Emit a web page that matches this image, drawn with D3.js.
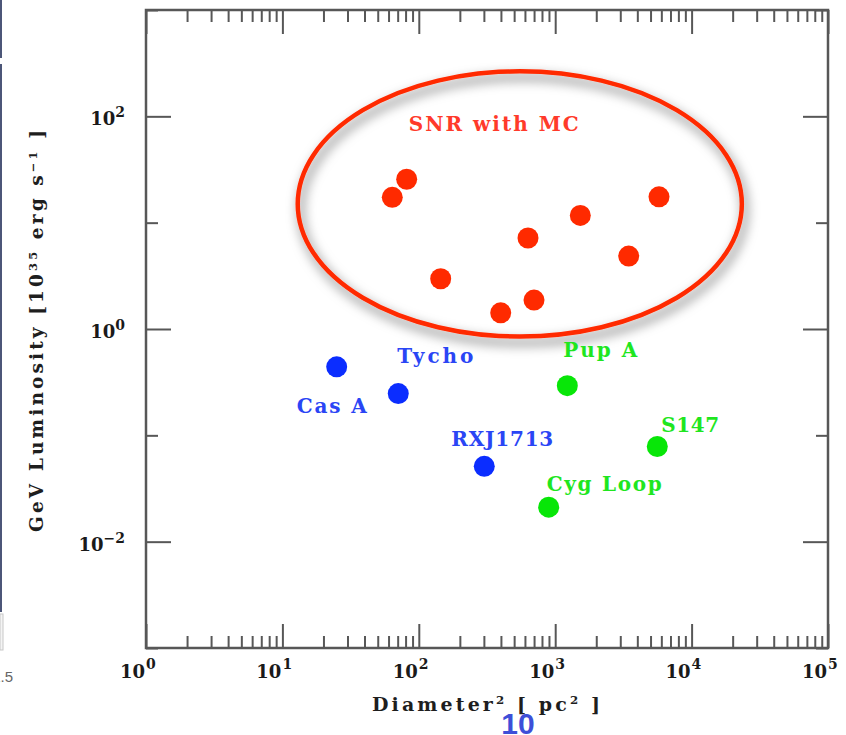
<!DOCTYPE html>
<html>
<head>
<meta charset="utf-8">
<script src="https://cdn.jsdelivr.net/npm/d3@7"></script>
<style>
  html, body { margin: 0; padding: 0; background: #fff; }
  svg { display: block; }
</style>
</head>
<body>
<svg id="chart" width="846" height="735"></svg>
<script>
// GeV luminosity of supernova remnants against squared diameter

// Remnants interacting with molecular clouds
const mcDiam2 = [63.9, 81.5, 144.7, 398.6, 631.8, 699.3, 1528, 3459, 5768];
const mcLum   = [17.3, 25.6, 2.97, 1.42, 7.17, 1.87, 11.7, 4.85, 17.5];

// Young remnants
const youngNames = ["Cas A", "Tycho", "RXJ1713"];
const youngDiam2 = [25.0, 70.7, 302];
const youngLum   = [0.441, 0.247, 0.0511];

// Older remnants
const oldNames = ["Pup A", "S147", "Cyg Loop"];
const oldDiam2 = [1227, 5604, 896];
const oldLum   = [0.293, 0.0786, 0.0211];

// Axis ranges and tick exponents
const xDomain = [1, 1e5];
const yDomain = [1e-3, 1e3];
const xMajorExps = [0, 1, 2, 3, 4, 5];
const yMajorExps = [-2, 0, 2];
const yMinorExps = [-3, -1, 1, 3];

// Group outline around the cloud-interacting remnants (centre, half-axes in decades)
const mcCenter = [550, 15];
const mcHalfDecades = [1.628, 1.247];
const mcTitle = "SNR with MC";

const xTitle = ["Diameter", "2", " [ pc", "2", " ]"];
const yTitle = ["GeV Luminosity [10", "35", " erg s", "\u22121", " ]"];
const pageNumber = "10";

// ---------------------------------------------------------------
const svg = d3.select("#chart");
const plot = { left: 146, right: 828, top: 10, bottom: 648 };

const x = d3.scaleLog().domain(xDomain).range([plot.left, plot.right]);
const y = d3.scaleLog().domain(yDomain).range([plot.bottom, plot.top]);

const RED = "#ff2a00", BLUE = "#0b2dff", GREEN = "#08e608";
const AXIS = "#575757";
const serif = "'DejaVu Serif', 'Liberation Serif', serif";

// Drop shadow for the group outline
const defs = svg.append("defs");
const f = defs.append("filter").attr("id", "shadow")
  .attr("x", "-20%").attr("y", "-20%").attr("width", "140%").attr("height", "150%");
f.append("feDropShadow").attr("dx", 3).attr("dy", 6)
  .attr("stdDeviation", 6).attr("flood-color", "#000").attr("flood-opacity", 0.6);

// Slide edge remnants on the left border
svg.append("rect").attr("x", 0).attr("y", 0).attr("width", 2).attr("height", 58).attr("fill", "#4c5678");
svg.append("rect").attr("x", 0).attr("y", 64).attr("width", 2).attr("height", 548).attr("fill", "#4c5678");
svg.append("rect").attr("x", 0).attr("y", 614).attr("width", 3).attr("height", 36)
  .attr("fill", "#f4f4f4").attr("stroke", "#c8c8c8").attr("stroke-width", 1);
svg.append("text").attr("x", 13).attr("y", 682).attr("text-anchor", "end")
  .attr("font-family", "'Liberation Sans', Arial, sans-serif").attr("font-size", 15)
  .attr("fill", "#666").text("1.5");

// Ticks via d3 axes
const xMajor = xMajorExps.map(e => Math.pow(10, e));
const xMinor = [];
for (let e = 0; e < 5; e++) for (let m = 2; m <= 9; m++) xMinor.push(m * Math.pow(10, e));
const yMajor = yMajorExps.map(e => Math.pow(10, e));
const yMinor = yMinorExps.map(e => Math.pow(10, e));

function styleAxis(g) {
  g.select(".domain").remove();
  g.selectAll(".tick line").attr("stroke", AXIS).attr("stroke-width", 2);
  g.selectAll(".tick text").remove();
}
const axes = svg.append("g");
axes.append("g").attr("transform", `translate(0,${plot.bottom})`)
  .call(d3.axisBottom(x).tickValues(xMajor).tickSize(-24).tickSizeOuter(0)).call(styleAxis);
axes.append("g").attr("transform", `translate(0,${plot.bottom})`)
  .call(d3.axisBottom(x).tickValues(xMinor).tickSize(-12).tickSizeOuter(0)).call(styleAxis);
axes.append("g").attr("transform", `translate(0,${plot.top})`)
  .call(d3.axisTop(x).tickValues(xMajor).tickSize(-24).tickSizeOuter(0)).call(styleAxis);
axes.append("g").attr("transform", `translate(0,${plot.top})`)
  .call(d3.axisTop(x).tickValues(xMinor).tickSize(-12).tickSizeOuter(0)).call(styleAxis);
axes.append("g").attr("transform", `translate(${plot.left},0)`)
  .call(d3.axisLeft(y).tickValues(yMajor).tickSize(-25).tickSizeOuter(0)).call(styleAxis);
axes.append("g").attr("transform", `translate(${plot.left},0)`)
  .call(d3.axisLeft(y).tickValues(yMinor).tickSize(-12).tickSizeOuter(0)).call(styleAxis);
axes.append("g").attr("transform", `translate(${plot.right},0)`)
  .call(d3.axisRight(y).tickValues(yMajor).tickSize(-25).tickSizeOuter(0)).call(styleAxis);
axes.append("g").attr("transform", `translate(${plot.right},0)`)
  .call(d3.axisRight(y).tickValues(yMinor).tickSize(-12).tickSizeOuter(0)).call(styleAxis);

// Frame
svg.append("rect")
  .attr("x", plot.left).attr("y", plot.top)
  .attr("width", plot.right - plot.left).attr("height", plot.bottom - plot.top)
  .attr("fill", "none").attr("stroke", AXIS).attr("stroke-width", 2.5);

// Power-of-ten tick labels
const tickFont = 18, expFont = 14;
const labels = svg.append("g").attr("fill", "#1a1a1a").attr("font-family", serif)
  .attr("font-weight", "bold");
function expText(e) { return e < 0 ? "\u2212" + Math.abs(e) : String(e); }

xMajorExps.forEach(e => {
  const px = x(Math.pow(10, e));
  labels.append("text").attr("x", px - 1).attr("y", 678)
    .attr("text-anchor", "end").attr("font-size", tickFont).text("10");
  labels.append("text").attr("x", px).attr("y", 669)
    .attr("text-anchor", "start").attr("font-size", expFont).text(expText(e));
});
yMajorExps.forEach(e => {
  const py = y(Math.pow(10, e));
  const ex = labels.append("text").attr("x", 125).attr("y", py + 1)
    .attr("text-anchor", "end").attr("font-size", expFont).text(expText(e));
  const w = ex.node().getComputedTextLength();
  labels.append("text").attr("x", 125 - w).attr("y", py + 9)
    .attr("text-anchor", "end").attr("font-size", tickFont).text("10");
});

// Axis titles
function titleText(parent, parts, size) {
  const t = parent.append("text").attr("font-family", serif).attr("font-weight", "bold")
    .attr("font-size", size).attr("fill", "#1e1e1e").attr("text-anchor", "middle");
  parts.forEach((p, i) => {
    const s = t.append("tspan").text(p);
    if (i % 2 === 1) s.attr("font-size", size * 0.62).attr("baseline-shift", "55%");
  });
  return t;
}
titleText(svg, xTitle, 19)
  .attr("x", 486).attr("y", 711)
  .attr("textLength", 228).attr("lengthAdjust", "spacing");
titleText(svg.append("g").attr("transform", "translate(43,331) rotate(-90)"), yTitle, 18.5)
  .attr("x", 0).attr("y", 0)
  .attr("textLength", 402).attr("lengthAdjust", "spacing");

// Group outline
const cx = x(mcCenter[0]), cy = y(mcCenter[1]);
const rx = x(mcCenter[0] * Math.pow(10, mcHalfDecades[0])) - cx;
const ry = cy - y(mcCenter[1] * Math.pow(10, mcHalfDecades[1]));
svg.append("ellipse")
  .attr("cx", cx).attr("cy", cy).attr("rx", rx).attr("ry", ry)
  .attr("fill", "none").attr("stroke", RED).attr("stroke-width", 4.5)
  .attr("filter", "url(#shadow)");

// Point labels
const labelFont = 20;
function pointLabel(px, py, txt, color, dx, dy, len) {
  svg.append("text")
    .attr("x", px + dx).attr("y", py + dy)
    .attr("font-family", serif).attr("font-weight", "bold")
    .attr("font-size", labelFont).attr("fill", color)
    .attr("textLength", len).attr("lengthAdjust", "spacing")
    .text(txt);
}
pointLabel(cx, cy, mcTitle, "#ff3a2a", -111, -73, 170);

// label placement: [dx, dy, width]
const youngLabelPos = [[-40, 46, 70], [-1, -31, 76], [-33, -20, 102]];
const oldLabelPos = [[-4, -29, 74], [4, -14, 58], [-2, -16, 115]];

// Markers
const R = 10.5;
const dots = svg.append("g");
dots.selectAll("circle.mc").data(mcDiam2).join("circle").attr("class", "mc")
  .attr("cx", d => x(d)).attr("cy", (d, i) => y(mcLum[i])).attr("r", R).attr("fill", RED);
dots.selectAll("circle.young").data(youngDiam2).join("circle").attr("class", "young")
  .attr("cx", d => x(d)).attr("cy", (d, i) => y(youngLum[i])).attr("r", R).attr("fill", BLUE);
dots.selectAll("circle.old").data(oldDiam2).join("circle").attr("class", "old")
  .attr("cx", d => x(d)).attr("cy", (d, i) => y(oldLum[i])).attr("r", R).attr("fill", GREEN);

youngNames.forEach((n, i) => {
  const p = youngLabelPos[i];
  pointLabel(x(youngDiam2[i]), y(youngLum[i]), n, "#2a45f5", p[0], p[1], p[2]);
});
oldNames.forEach((n, i) => {
  const p = oldLabelPos[i];
  pointLabel(x(oldDiam2[i]), y(oldLum[i]), n, "#1fe61f", p[0], p[1], p[2]);
});

// Slide page number
svg.append("text").attr("x", 518).attr("y", 734).attr("text-anchor", "middle")
  .attr("font-family", "'Liberation Sans', Arial, sans-serif").attr("font-weight", "bold")
  .attr("font-size", 30).attr("fill", "#3d4fd8").text(pageNumber);
</script>
</body>
</html>
